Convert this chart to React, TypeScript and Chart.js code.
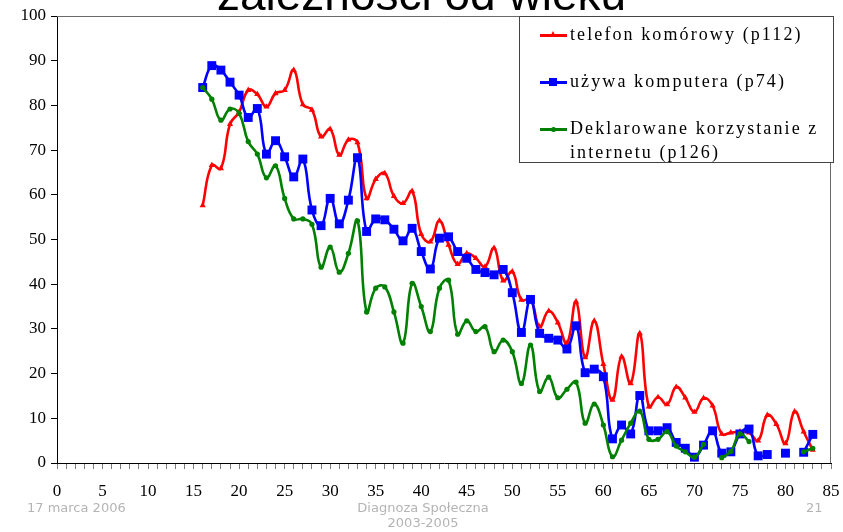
import React, { useEffect, useRef } from 'react';
import { Chart, registerables } from 'chart.js';

Chart.register(...registerables);

// ---- data ----
const ages = [16, 17, 18, 19, 20, 21, 22, 23, 24, 25, 26, 27, 28, 29, 30, 31, 32, 33, 34, 35,
  36, 37, 38, 39, 40, 41, 42, 43, 44, 45, 46, 47, 48, 49, 50, 51, 52, 53, 54, 55,
  56, 57, 58, 59, 60, 61, 62, 63, 64, 65, 66, 67, 68, 69, 70, 71, 72, 73, 74, 75,
  76, 77, 78, 79, 80, 81, 82, 83];

const phone = [57.6, 66.6, 65.9, 75.8, 78.5, 83.4, 82.5, 79.7, 82.7, 83.4, 87.9, 80.2, 79, 73, 74.7, 68.9, 72.3, 71.7, 59.2, 63.5,
  64.8, 59.7, 58.1, 60.8, 51.2, 49.5, 54.2, 48.8, 44.5, 46.9, 45.8, 43.9, 48.1, 40.8, 42.8, 36.5, 36.6, 30.5, 34, 31.4,
  26.8, 36.1, 23.6, 31.8, 22.1, 14.1, 23.8, 17.8, 29, 12.6, 14.7, 13.1, 17, 14.6, 11.4, 14.5, 12.8, 6.5, 6.8, 7,
  6.8, 5, 10.7, 8.7, 4.4, 11.5, 7, 2.9];

const computer = [84, 88.9, 87.9, 85.2, 82.3, 77.3, 79.3, 69.1, 72.1, 68.5, 64, 68, 56.6, 53.1, 59.2, 53.5, 58.8, 68.3, 51.8, 54.6,
  54.4, 52.3, 49.7, 52.5, 47.3, 43.4, 50.3, 50.6, 47.3, 45.8, 43.3, 42.6, 42.1, 43.3, 38.1, 29.2, 36.6, 29, 27.9, 27.5,
  25.5, 30.7, 20.2, 21, 19.3, 5.4, 8.5, 6.5, 15.1, 7.2, 7.2, 7.9, 4.6, 3.3, 1.3, 4, 7.2, 2.2, 2.5, 6.5,
  7.6, 1.6, 1.9, null, 2.2, null, 2.4, 6.4];

const internet = [84, 81.4, 76.7, 79.2, 78.2, 71.9, 69.1, 63.8, 66.5, 59.2, 54.6, 54.6, 53.4, 43.8, 48.3, 42.7, 46.9, 54.2, 33.8, 39.1,
  39.4, 33.8, 26.8, 40.2, 35, 29.4, 39.1, 40.9, 28.8, 31.8, 29.4, 30.5, 24.9, 27.5, 24.9, 17.8, 26.4, 16, 19.2, 14.6,
  16.5, 18.1, 8.9, 13.2, 8.5, 1.4, 5.1, 8.9, 11.6, 5.3, 5.3, 7, 3.8, 2.5, 1.3, 4.2, null, 1.2, 2.6, 6.5,
  4.8, null, null, null, null, null, 2.5, 3.3];

const xTickLabels = ['0', '5', '10', '15', '20', '25', '30', '35', '40', '45', '50', '55', '60', '65', '70', '75', '80', '85'];
const yTickLabels = ['0', '10', '20', '30', '40', '50', '60', '70', '80', '90', '100'];

const seriesNames = ['telefon komórowy (p112)', 'używa komputera (p74)', 'Deklarowane korzystanie z internetu (p126)'];
const seriesColors = ['#ff0000', '#0000ff', '#008000'];

const titleText = 'zależności od wieku';
const footerLeft = '17 marca 2006';
const footerCenter1 = 'Diagnoza Społeczna';
const footerCenter2 = '2003-2005';
const footerRight = '21';

const toPoints = (vals: (number | null)[]) => ages.map((a, i) => ({ x: a, y: vals[i] }));

const frame = {
  id: 'frame',
  afterDraw(chart: any) {
    const { ctx, chartArea } = chart;
    ctx.save();
    ctx.strokeStyle = '#6a6a6a';
    ctx.lineWidth = 1;
    ctx.beginPath();
    ctx.moveTo(chartArea.left, chartArea.top + 0.5);
    ctx.lineTo(chartArea.right - 0.5, chartArea.top + 0.5);
    ctx.lineTo(chartArea.right - 0.5, chartArea.bottom);
    ctx.stroke();
    ctx.restore();
  },
};

function LegendMarker({ idx }: { idx: number }) {
  const color = seriesColors[idx];
  let marker: any = null;
  if (idx === 0) {
    marker = <div style={{ position: 'absolute', left: 10, top: -3, width: 0, height: 0, borderLeft: '3px solid transparent', borderRight: '3px solid transparent', borderBottom: `6px solid ${color}` }} />;
  } else if (idx === 1) {
    marker = <div style={{ position: 'absolute', left: 9, top: -3, width: 8, height: 8, background: color }} />;
  } else {
    marker = <div style={{ position: 'absolute', left: 11, top: -1, width: 5, height: 5, borderRadius: 3, background: color }} />;
  }
  return (
    <div style={{ position: 'absolute', left: 0, top: 0, width: 27, height: 3 }}>
      <div style={{ position: 'absolute', left: 0, top: 0, width: 27, height: 3, background: color }} />
      {marker}
    </div>
  );
}

export default function App() {
  const ref = useRef<HTMLCanvasElement | null>(null);

  useEffect(() => {
    if (!ref.current) return;
    const mk = (i: number, vals: (number | null)[], style: string, radius: number, order: number) => ({
      label: seriesNames[i],
      data: toPoints(vals),
      borderColor: seriesColors[i],
      backgroundColor: seriesColors[i],
      borderWidth: 2.6,
      pointStyle: style,
      pointRadius: radius,
      pointBorderWidth: 0,
      pointBackgroundColor: seriesColors[i],
      tension: 0.45,
      spanGaps: false,
      order,
    });
    const chart = new Chart(ref.current, {
      type: 'line',
      data: {
        datasets: [
          mk(0, phone, 'triangle', 3.6, 3),
          mk(1, computer, 'rect', 6.3, 2),
          mk(2, internet, 'circle', 2.6, 1),
        ] as any,
      },
      options: {
        animation: false,
        responsive: true,
        maintainAspectRatio: false,
        layout: { padding: { left: 0, right: 12, top: 16, bottom: 0 } },
        plugins: { legend: { display: false }, tooltip: { enabled: false } },
        scales: {
          x: {
            type: 'linear',
            min: 0,
            max: 85,
            afterFit(scale: any) { scale.height = 69; scale.paddingLeft = 0; scale.paddingRight = 0; },
            border: { display: true, color: '#000', width: 1 },
            grid: { display: true, drawOnChartArea: false, drawTicks: true, tickLength: 6, color: '#7a7a7a' },
            ticks: {
              stepSize: 1,
              autoSkip: false,
              maxRotation: 0,
              padding: 12,
              color: '#000',
              font: { family: '"Liberation Serif", "Times New Roman", serif', size: 17 },
              callback: (v: any) => (Number(v) % 5 === 0 ? xTickLabels[Number(v) / 5] : ''),
            },
          },
          y: {
            min: 0,
            max: 100,
            afterFit(scale: any) { scale.width = 57; scale.paddingTop = 0; scale.paddingBottom = 0; },
            border: { display: true, color: '#000', width: 1 },
            grid: { display: true, drawOnChartArea: false, drawTicks: true, tickLength: 6, color: '#000' },
            ticks: {
              stepSize: 10,
              padding: 5,
              color: '#000',
              font: { family: '"Liberation Serif", "Times New Roman", serif', size: 17 },
              callback: (v: any) => yTickLabels[Math.round(Number(v) / 10)],
            },
          },
        },
      } as any,
      plugins: [frame],
    });
    return () => chart.destroy();
  }, []);

  const serif = '"Liberation Serif", "Times New Roman", serif';
  const footer: any = { position: 'absolute', fontFamily: '"DejaVu Sans", Verdana, sans-serif', fontSize: 13, color: '#b4b4b4', lineHeight: '15px', whiteSpace: 'nowrap' };

  return (
    <div style={{ position: 'fixed', left: 0, top: 0, width: 843, height: 532, overflow: 'hidden', background: '#fff' }}>
      <canvas ref={ref} style={{ position: 'absolute', left: 0, top: 0 }} />
      <div style={{ position: 'absolute', left: 0, width: 843, top: -29, textAlign: 'center', fontFamily: '"Liberation Sans", Arial, sans-serif', fontSize: 46, lineHeight: '46px', color: '#000', whiteSpace: 'nowrap' }}>{titleText}</div>
      <div style={{ position: 'absolute', left: 519, top: 16, width: 313, height: 145, border: '1px solid #444', background: '#fff' }}>
        {seriesNames.map((n, i) => (
          <div key={i} style={{ position: 'absolute', left: 20, top: [17, 64, 111][i], width: 300 }}>
            <LegendMarker idx={i} />
            <div style={{ position: 'absolute', left: 30, top: -12, width: 266, fontFamily: serif, fontSize: 18, letterSpacing: '2.1px', lineHeight: '24px', color: '#000' }}>{n}</div>
          </div>
        ))}
      </div>
      <div style={{ ...footer, left: 27, top: 500 }}>{footerLeft}</div>
      <div style={{ ...footer, left: 323, width: 200, top: 500, textAlign: 'center' }}>{footerCenter1}<br />{footerCenter2}</div>
      <div style={{ ...footer, left: 806, top: 500 }}>{footerRight}</div>
    </div>
  );
}
